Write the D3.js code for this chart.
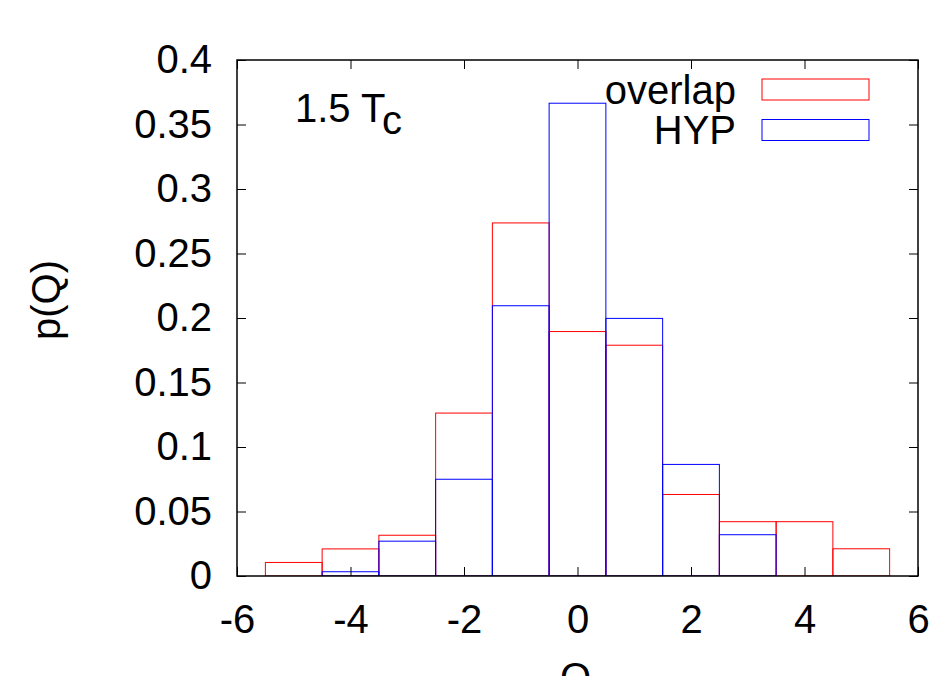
<!DOCTYPE html>
<html>
<head>
<meta charset="utf-8">
<script src="https://cdn.jsdelivr.net/npm/d3@7"></script>
<style>
  html, body { margin: 0; padding: 0; background: #fff; }
  svg { display: block; font-family: "Liberation Sans", Arial, sans-serif; }
</style>
</head>
<body>
<svg id="chart" width="937" height="676"></svg>
<script>
// ---- data ----
const binCenters = [-6, -5, -4, -3, -2, -1, 0, 1, 2, 3, 4, 5, 6];
const overlapValues = [0, 0.0105, 0.021, 0.0316, 0.1263, 0.2737, 0.1895, 0.1789, 0.0632, 0.0421, 0.0421, 0.0211, 0];
const hypValues = [null, 0, 0.0033, 0.027, 0.075, 0.2095, 0.3665, 0.1997, 0.0865, 0.032, 0, 0, null];
const xTicks = [-6, -4, -2, 0, 2, 4, 6];
const yTicks = [0, 0.05, 0.1, 0.15, 0.2, 0.25, 0.3, 0.35, 0.4];
const seriesNames = ["overlap", "HYP"];
const seriesColors = ["#ff0000", "#0000ff"];
const binWidth = 1;

// ---- layout ----
const svg = d3.select("#chart");
const L = 237, R = 918, T = 60, B = 576;
const x = d3.scaleLinear().domain([-6, 6]).range([L, R]);
const y = d3.scaleLinear().domain([0, 0.4]).range([B, T]);
const fontSize = 40;

svg.append("defs").append("clipPath").attr("id", "plotclip")
  .append("rect").attr("x", L).attr("y", T).attr("width", R - L).attr("height", B - T);

const plot = svg.append("g").attr("clip-path", "url(#plotclip)");

[overlapValues, hypValues].forEach((vals, si) => {
  const data = binCenters.map((c, i) => ({ c, v: vals[i] })).filter(d => d.v !== null);
  plot.append("g").selectAll("rect").data(data).join("rect")
    .attr("x", d => x(d.c - binWidth / 2))
    .attr("width", d => x(d.c + binWidth / 2) - x(d.c - binWidth / 2))
    .attr("y", d => y(d.v))
    .attr("height", d => y(0) - y(d.v))
    .attr("fill", "none")
    .attr("stroke", seriesColors[si])
    .attr("stroke-width", 1);
});

// ---- axes (mirrored, inward ticks) ----
const tickLen = 9;
const axBottom = d3.axisBottom(x).tickValues(xTicks).tickSize(-tickLen).tickPadding(0).tickFormat(d => String(d));
const axTop = d3.axisTop(x).tickValues(xTicks).tickSize(-tickLen).tickFormat("");
const axLeft = d3.axisLeft(y).tickValues(yTicks).tickSize(-tickLen).tickPadding(25).tickFormat(d => String(+d.toFixed(2)));
const axRight = d3.axisRight(y).tickValues(yTicks).tickSize(-tickLen).tickFormat("");

function styleAxis(g) {
  g.select(".domain").remove();
  g.selectAll(".tick line").attr("stroke", "#000").attr("stroke-width", 1);
  g.selectAll("text").attr("fill", "#000").attr("font-size", fontSize)
    .attr("font-family", "'Liberation Sans', Arial, sans-serif");
}
svg.append("g").attr("transform", `translate(0,${B})`).call(axBottom).call(styleAxis)
  .selectAll("text").attr("y", 57).attr("dy", null);
svg.append("g").attr("transform", `translate(0,${T})`).call(axTop).call(styleAxis);
svg.append("g").attr("transform", `translate(${L},0)`).call(axLeft).call(styleAxis);
svg.append("g").attr("transform", `translate(${R},0)`).call(axRight).call(styleAxis);

svg.append("rect").attr("x", L).attr("y", T).attr("width", R - L).attr("height", B - T)
  .attr("fill", "none").attr("stroke", "#000").attr("stroke-width", 1.5);

// ---- labels ----
svg.append("text")
  .attr("transform", `translate(60,300) rotate(-90)`)
  .attr("text-anchor", "middle").attr("font-size", fontSize).text("p(Q)");

svg.append("text").attr("x", (L + R) / 2 - 2).attr("y", 691)
  .attr("text-anchor", "middle").attr("font-size", fontSize).text("Q");

const ann = svg.append("text").attr("x", 295).attr("y", 122).attr("font-size", fontSize);
ann.append("tspan").text("1.5 T");
ann.append("tspan").attr("dx", 1).attr("dy", 12).text("c");

// ---- legend ----
seriesNames.forEach((name, i) => {
  const cy = 89.5 + i * 40.5;
  svg.append("text").attr("x", 736).attr("y", cy + 14)
    .attr("text-anchor", "end").attr("font-size", fontSize).text(name);
  svg.append("rect").attr("x", 762).attr("y", cy - 10.5).attr("width", 107).attr("height", 21)
    .attr("fill", "none").attr("stroke", seriesColors[i]).attr("stroke-width", 1);
});
</script>
</body>
</html>
